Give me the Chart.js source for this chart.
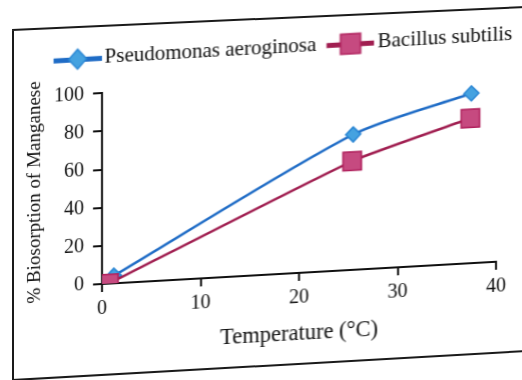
<!DOCTYPE html>
<html>
<head>
<meta charset="utf-8">
<script src="https://cdn.jsdelivr.net/npm/chart.js@4.4.1/dist/chart.umd.min.js"></script>
<style>
  html, body { margin: 0; padding: 0; background: #fff; overflow: hidden; }
  #sheet {
    position: relative; width: 522px; height: 380px;
    transform: skewY(-3.23deg); transform-origin: 102px 284px;
  }
  #frame {
    position: absolute; left: 12px; top: 26px; width: 620px; height: 350px;
    box-sizing: border-box; border: 2px solid #1a1a1a; border-right: none; border-top: none;
  }
  #topline {
    position: absolute; left: 12px; top: 29px; width: 520px; height: 2px;
    background: #1a1a1a; transform: rotate(-2.57deg); transform-origin: 0 0;
  }
  #chart { position: absolute; left: 0; top: 0; }
</style>
</head>
<body>
<div id="topline"></div>
<div id="sheet">
  <div id="frame"></div>
  <canvas id="chart" width="522" height="380"></canvas>
</div>
<script>
const seriesNames = ['Pseudomonas aeroginosa', 'Bacillus subtilis'];
const pseudoTemp = [1.2, 25.5, 37.5];
const pseudoUptake = [4, 71, 89];
const bacTemp = [0.7, 25.4, 37.4];
const bacUptake = [0, 57, 76];
const xTicks = [0, 10, 20, 30, 40];
const yTicks = [0, 20, 40, 60, 80, 100];

const INK = '#101010';
const BLUE_LINE = '#1f6cc6';
const BLUE_FILL = '#45a2e0';
const PINK_LINE = '#a01e50';
const PINK_FILL = '#c64a80';
const SERIF = "'Liberation Serif', 'DejaVu Serif', serif";

function points(xs, ys) {
  return xs.map((x, i) => ({ x: x, y: ys[i] }));
}

// line+marker swatches for the legend (drawn 4px right of the box centre)
function swatch(kind) {
  const c = document.createElement('canvas');
  c.width = 56; c.height = 24;
  const g = c.getContext('2d');
  g.fillStyle = kind === 'diamond' ? BLUE_LINE : PINK_LINE;
  g.fillRect(8, 10, 48, 5);
  if (kind === 'diamond') {
    g.beginPath();
    g.moveTo(32, 2); g.lineTo(41, 12); g.lineTo(32, 22); g.lineTo(23, 12);
    g.closePath();
    g.fillStyle = BLUE_FILL; g.fill();
    g.strokeStyle = '#2a86d4'; g.lineWidth = 1.5; g.stroke();
  } else {
    g.fillStyle = PINK_FILL;
    g.fillRect(22, 2, 20, 20);
    g.strokeStyle = '#b0205c'; g.lineWidth = 1.5;
    g.strokeRect(22, 2, 20, 20);
  }
  return c;
}
const swatches = [swatch('diamond'), swatch('square')];

// push the legend up away from the plot
const legendGap = {
  id: 'legendGap',
  afterInit(chart) {
    const fit = chart.legend.fit;
    chart.legend.fit = function () {
      fit.call(this);
      this.height += 15;
    };
  }
};

new Chart(document.getElementById('chart'), {
  type: 'line',
  data: {
    datasets: [{
      label: seriesNames[0],
      data: points(pseudoTemp, pseudoUptake),
      borderColor: BLUE_LINE,
      borderWidth: 2.5,
      tension: 0.25,
      pointStyle: 'rectRot',
      pointRadius: 7.5,
      pointBackgroundColor: BLUE_FILL,
      pointBorderColor: '#2a86d4',
      pointBorderWidth: 1.5,
      order: 1
    }, {
      label: seriesNames[1],
      data: points(bacTemp, bacUptake),
      borderColor: PINK_LINE,
      borderWidth: 2.5,
      tension: 0.15,
      pointStyle: 'rect',
      pointRadius: 13,
      pointBackgroundColor: PINK_FILL,
      pointBorderColor: '#b0205c',
      pointBorderWidth: 1.5,
      order: 0
    }]
  },
  plugins: [legendGap],
  options: {
    responsive: false,
    animation: false,
    layout: { padding: 0 },
    plugins: {
      tooltip: { enabled: false },
      legend: {
        position: 'top',
        align: 'end',
        labels: {
          usePointStyle: true,
          pointStyleWidth: 41,
          padding: 9.75,
          color: INK,
          font: { family: SERIF, size: 21 },
          generateLabels: () => seriesNames.map((name, i) => ({
            text: name,
            pointStyle: swatches[i],
            fillStyle: 'transparent',
            strokeStyle: 'transparent',
            lineWidth: 0,
            hidden: false,
            fontColor: INK,
            datasetIndex: i
          }))
        }
      }
    },
    scales: {
      x: {
        type: 'linear',
        min: xTicks[0],
        max: xTicks[xTicks.length - 1],
        afterFit: s => { s.height = 96; s.paddingRight = 26; },
        ticks: { stepSize: xTicks[1] - xTicks[0], color: INK, padding: 5,
                 font: { family: SERIF, size: 20 } },
        grid: { drawOnChartArea: false, tickLength: 8, tickColor: INK, lineWidth: 2 },
        border: { color: INK, width: 2 },
        title: { display: true, text: 'Temperature (\u00B0C)', color: INK,
                 font: { family: SERIF, size: 22.5 }, padding: { top: 0, bottom: 21 } }
      },
      y: {
        min: yTicks[0],
        max: yTicks[yTicks.length - 1],
        afterFit: s => { s.width = 102; s.paddingTop = 93.3; },
        ticks: { stepSize: yTicks[1] - yTicks[0], color: INK, padding: 9,
                 font: { family: SERIF, size: 20 } },
        grid: { drawOnChartArea: false, tickLength: 9, tickColor: INK, lineWidth: 2 },
        border: { color: INK, width: 2 },
        title: { display: true, text: '% Biosorption of Manganese', color: INK,
                 font: { family: SERIF, size: 19 }, padding: { top: 23.6, bottom: 0 } }
      }
    }
  }
});
</script>
</body>
</html>
